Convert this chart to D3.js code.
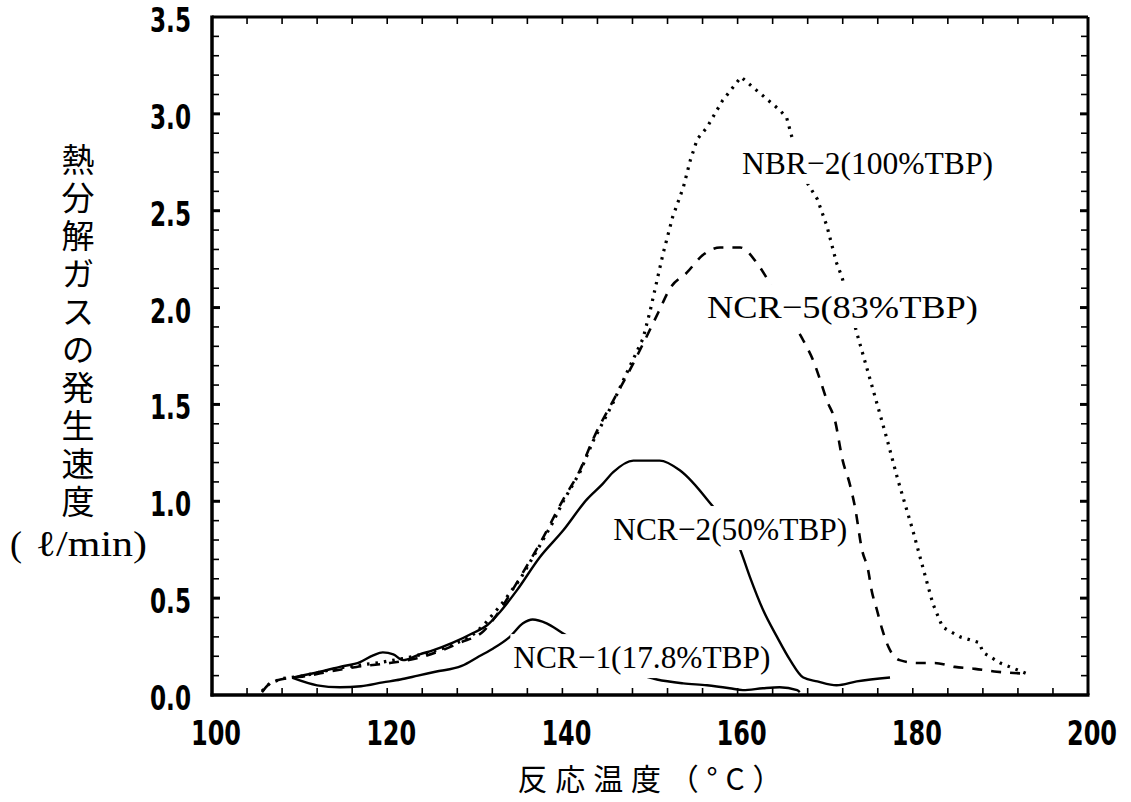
<!DOCTYPE html>
<html><head><meta charset="utf-8">
<script src="https://cdn.jsdelivr.net/npm/d3@7"></script>
<style>body{margin:0;background:#fff}svg{display:block}</style>
</head><body><svg id="c" width="1131" height="802"></svg>
<script>
// ---- data ----
const xTickValues = [100, 120, 140, 160, 180, 200];
const xTickLabels = ["100", "120", "140", "160", "180", "200"];
const yTickValues = [0, 0.5, 1.0, 1.5, 2.0, 2.5, 3.0, 3.5];
const yTickLabels = ["0.0", "0.5", "1.0", "1.5", "2.0", "2.5", "3.0", "3.5"];
const seriesNames = ["NBR\u22122(100%TBP)", "NCR\u22125(83%TBP)", "NCR\u22122(50%TBP)", "NCR\u22121(17.8%TBP)"];
const xTitle = "反応温度（°C）";
const yTitle = "熱分解ガスの発生速度";
const yUnitOpen = "(";
const yUnit = "\u2113/min)";

const nbr2 = [[105.7,0.02],[106.6,0.06],[108,0.085],[110,0.095],[112,0.115],[114.6,0.14],[117,0.155],[119.5,0.17],[122,0.19],[124.5,0.215],[127,0.25],[129.5,0.3],[131,0.36],[132.9,0.46],[135.2,0.6],[137.4,0.77],[138.9,0.89],[140.1,1.0],[142,1.15],[143.5,1.31],[145.8,1.51],[146.9,1.62],[149.2,1.84],[150,1.98],[151.5,2.28],[152.6,2.47],[153.8,2.62],[154.6,2.76],[155.4,2.87],[156.5,2.93],[158.3,3.07],[160.4,3.19],[162.2,3.12],[164.8,3.02],[165.6,2.98],[166.2,2.88],[168,2.64],[169.1,2.56],[170.2,2.42],[171.3,2.23],[171.9,2.16],[173.6,1.87],[175.5,1.57],[177,1.33],[178.3,1.11],[180,0.85],[181.2,0.65],[182.3,0.47],[183.4,0.35],[185.4,0.3],[187.6,0.27],[188,0.22],[190,0.165],[193,0.11]];
const ncr5 = [[105.7,0.015],[106.6,0.06],[107.8,0.08],[109,0.088],[111,0.1],[113.3,0.12],[116.5,0.145],[120.3,0.165],[123.4,0.19],[125.6,0.22],[128.3,0.27],[131,0.33],[132.9,0.44],[135.2,0.61],[137.4,0.78],[140.1,1.01],[142,1.16],[143.5,1.32],[145.8,1.52],[147.5,1.66],[149.5,1.84],[151,1.98],[152.3,2.1],[154.2,2.18],[156,2.27],[158,2.31],[160.3,2.31],[162.2,2.23],[163.5,2.14],[165.5,1.98],[167.5,1.83],[168.6,1.73],[169.4,1.63],[170.2,1.52],[171.1,1.42],[172,1.21],[172.8,1.09],[173.4,0.97],[174.2,0.75],[174.9,0.645],[175.3,0.54],[175.9,0.44],[176.5,0.34],[177.2,0.25],[178.5,0.18],[180.5,0.165],[182.5,0.165],[184.8,0.145],[187.1,0.135],[189.6,0.12],[193.2,0.11]];
const ncr2 = [[109.2,0.09],[112.3,0.12],[114.6,0.145],[116.9,0.17],[118.4,0.205],[119.5,0.22],[120.7,0.21],[121.8,0.18],[123.7,0.21],[125.2,0.23],[127.5,0.27],[129.8,0.32],[131.4,0.36],[132.9,0.43],[134.8,0.54],[137.4,0.71],[140.1,0.85],[142.8,1.01],[144.6,1.09],[145.8,1.15],[148.1,1.21],[151.1,1.21],[153.4,1.16],[156.5,1.01],[160.3,0.75],[161.4,0.61],[162.9,0.44],[164.5,0.3],[166,0.18],[167.5,0.09],[169.1,0.07],[171.3,0.05],[173.6,0.07],[177.4,0.09]];
const ncr1 = [[109.2,0.088],[112,0.05],[114.6,0.04],[117,0.045],[119.5,0.065],[121.5,0.08],[123.5,0.1],[125.5,0.12],[128.5,0.15],[130.5,0.2],[132.1,0.24],[134,0.3],[135.5,0.37],[136.6,0.39],[138.2,0.37],[140,0.32],[150.8,0.08],[153.8,0.06],[156.5,0.05],[159.1,0.035],[160.6,0.025],[162.9,0.035],[164.8,0.04],[166.8,0.025],[167.1,0.015]];

// ---- drawing ----
const svg = d3.select("#c");
const x = d3.scaleLinear().domain([100, 200]).range([212, 1088]);
const y = d3.scaleLinear().domain([0, 3.5]).range([695, 17]);
const tickFont = "'Liberation Sans Narrow','Arial Narrow','DejaVu Sans Condensed',sans-serif";
const serif = "'Liberation Serif','Times New Roman',serif";
const cjk = "'Noto Sans CJK JP','Noto Sans CJK SC',sans-serif";

// lines
const line = (curve) => d3.line().x(d => x(d[0])).y(d => y(d[1])).curve(curve);
const seriesList = [
  {data: nbr2, dash: "2.5,6", w: 3.2, curve: d3.curveLinear},
  {data: ncr5, dash: "10,9", w: 2.6, curve: d3.curveMonotoneX},
  {data: ncr2, dash: null, w: 2.4, curve: d3.curveMonotoneX},
  {data: ncr1, dash: null, w: 2.4, curve: d3.curveMonotoneX}
];
seriesList.forEach(s => {
  svg.append("path").attr("d", line(s.curve)(s.data)).attr("fill", "none")
    .attr("stroke", "#000").attr("stroke-width", s.w)
    .attr("stroke-dasharray", s.dash).attr("stroke-linejoin", "round");
});

// curve labels with white background
const labelPos = [[160.5, 2.69], [156.5, 1.946], [145.8, 0.80], [134.4, 0.139]];
const labelWidths = [251, 271, 234, 257];
seriesNames.forEach((name, i) => {
  const g = svg.append("g");
  const t = g.append("text").attr("x", x(labelPos[i][0])).attr("y", y(labelPos[i][1]))
    .attr("font-family", serif).attr("font-size", 32).attr("fill", "#000")
    .attr("textLength", labelWidths[i]).attr("lengthAdjust", "spacingAndGlyphs")
    .text(name);
  const b = t.node().getBBox();
  g.insert("rect", "text").attr("x", b.x - 3).attr("y", b.y - 5)
    .attr("width", b.width + 6).attr("height", b.height + 8).attr("fill", "#fff");
});

// frame
svg.append("line").attr("x1", x(100)).attr("x2", x(200)).attr("y1", y(3.5)).attr("y2", y(3.5)).attr("stroke", "#000").attr("stroke-width", 3);
svg.append("line").attr("x1", x(200)).attr("x2", x(200)).attr("y1", y(3.5)).attr("y2", y(0)).attr("stroke", "#000").attr("stroke-width", 3);
svg.append("line").attr("x1", x(100)).attr("x2", x(100)).attr("y1", y(3.5) - 1.5).attr("y2", y(0) + 1.5).attr("stroke", "#000").attr("stroke-width", 3.5);
svg.append("line").attr("x1", x(100) - 1.5).attr("x2", x(200) + 1.5).attr("y1", y(0)).attr("y2", y(0)).attr("stroke", "#000").attr("stroke-width", 3.5);

// minor ticks
const xMinor = d3.range(104, 200, 4);
const yMinor = d3.range(1, 35).map(v => v / 10);
xMinor.forEach(v => {
  svg.append("line").attr("x1", x(v)).attr("x2", x(v)).attr("y1", y(0)).attr("y2", y(0) - 7).attr("stroke", "#000").attr("stroke-width", 1.6);
  svg.append("line").attr("x1", x(v)).attr("x2", x(v)).attr("y1", y(3.5)).attr("y2", y(3.5) + 7).attr("stroke", "#000").attr("stroke-width", 1.6);
});
yMinor.forEach(v => {
  const major = Math.abs(v * 2 - Math.round(v * 2)) < 1e-6;
  svg.append("line").attr("x1", x(100)).attr("x2", x(100) + (major ? 8 : 7)).attr("y1", y(v)).attr("y2", y(v)).attr("stroke", "#000").attr("stroke-width", major ? 3 : 1.6);
  svg.append("line").attr("x1", x(200)).attr("x2", x(200) - (major ? 8 : 7)).attr("y1", y(v)).attr("y2", y(v)).attr("stroke", "#000").attr("stroke-width", major ? 3 : 1.6);
});

// tick labels
yTickValues.forEach((v, i) => {
  svg.append("text").attr("x", 191).attr("y", y(v) + 15).attr("text-anchor", "end")
    .attr("font-family", tickFont).attr("font-weight", "bold").attr("font-size", 34)
    .attr("textLength", 41).attr("lengthAdjust", "spacingAndGlyphs").text(yTickLabels[i]);
});
xTickValues.forEach((v, i) => {
  svg.append("text").attr("x", x(v) + 4).attr("y", 745).attr("text-anchor", "middle")
    .attr("font-family", tickFont).attr("font-weight", "bold").attr("font-size", 34)
    .attr("textLength", 50).attr("lengthAdjust", "spacingAndGlyphs").text(xTickLabels[i]);
});

// axis titles
svg.append("text").attr("x", 650).attr("y", 790).attr("text-anchor", "middle")
  .attr("font-family", cjk).attr("font-size", 30).attr("fill", "#000")
  .attr("textLength", 265).attr("lengthAdjust", "spacing").text(xTitle);
svg.append("text").attr("x", 78).attr("y", 143)
  .style("writing-mode", "vertical-rl").style("letter-spacing", "5px")
  .attr("font-family", cjk).attr("font-size", 33).attr("fill", "#000").text(yTitle);
svg.append("text").attr("x", 10).attr("y", 556)
  .attr("font-family", serif).attr("font-size", 36).attr("fill", "#000").text(yUnitOpen);
svg.append("text").attr("x", 36).attr("y", 556)
  .attr("font-family", serif).attr("font-size", 36).attr("fill", "#000")
  .attr("textLength", 111).attr("lengthAdjust", "spacingAndGlyphs").text(yUnit);
</script></body></html>
